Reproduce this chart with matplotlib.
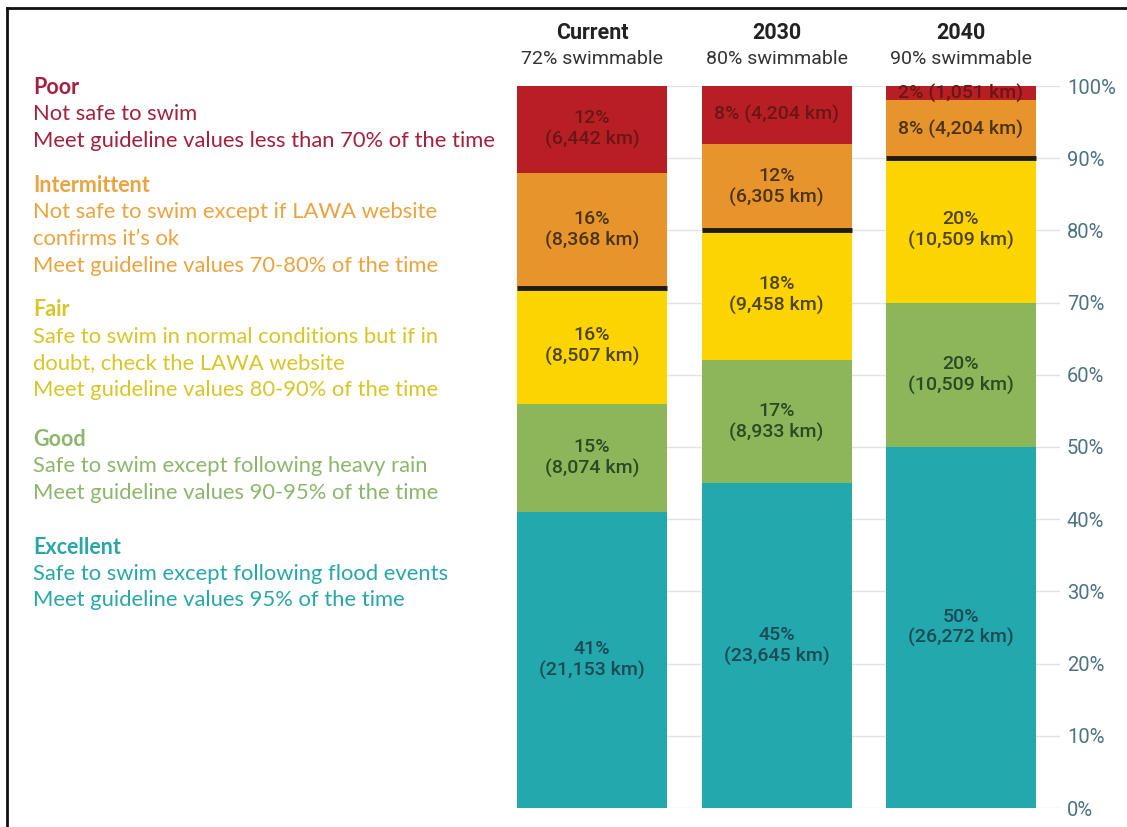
import numpy as np
import matplotlib
matplotlib.use("Agg")
import matplotlib.pyplot as plt
from matplotlib.lines import Line2D

# ── data ─────────────────────────────────────────────
SCENARIOS   = ["Current", "2030", "2040"]
SWIMMABLE   = [72, 80, 90]
CATEGORIES  = ["Excellent", "Good", "Fair", "Intermittent", "Poor"]
PCT = {
    "Excellent":    [41, 45, 50],
    "Good":         [15, 17, 20],
    "Fair":         [16, 18, 20],
    "Intermittent": [16, 12, 8],
    "Poor":         [12, 8, 2],
}
KM = {
    "Excellent":    ["21,153", "23,645", "26,272"],
    "Good":         ["8,074", "8,933", "10,509"],
    "Fair":         ["8,507", "9,458", "10,509"],
    "Intermittent": ["8,368", "6,305", "4,204"],
    "Poor":         ["6,442", "4,204", "1,051"],
}
YTICKS = [0, 10, 20, 30, 40, 50, 60, 70, 80, 90, 100]

LEGEND_ORDER = ["Poor", "Intermittent", "Fair", "Good", "Excellent"]
LEGEND_LINES = {
    "Poor":         ["Not safe to swim",
                     "Meet guideline values less than 70% of the time"],
    "Intermittent": ["Not safe to swim except if LAWA website",
                     "confirms it\u2019s ok",
                     "Meet guideline values 70-80% of the time"],
    "Fair":         ["Safe to swim in normal conditions but if in",
                     "doubt, check the LAWA website",
                     "Meet guideline values 80-90% of the time"],
    "Good":         ["Safe to swim except following heavy rain",
                     "Meet guideline values 90-95% of the time"],
    "Excellent":    ["Safe to swim except following flood events",
                     "Meet guideline values 95% of the time"],
}

# ── styles ───────────────────────────────────────────
BAR_COL = {
    "Excellent":    "#22a8ad",
    "Good":         "#8bb75a",
    "Fair":         "#fcd400",
    "Intermittent": "#e8942d",
    "Poor":         "#b81f25",
}
LABEL_COL = {
    "Excellent":    "#1d4a55",
    "Good":         "#2a4a25",
    "Fair":         "#4f4310",
    "Intermittent": "#4a3418",
    "Poor":         "#6a1616",
}
TEXT_COL = {
    "Excellent":    "#2aa6a9",
    "Good":         "#8db66d",
    "Fair":         "#d8c52a",
    "Intermittent": "#e9a441",
    "Poor":         "#a3213c",
}
CHART_FONT  = "Roboto"
LEGEND_FONT = "Lato"

W, H = 1127, 827
fig = plt.figure(figsize=(W / 100, H / 100), dpi=100)
fig.patch.set_facecolor("white")

# axes placed in pixel terms: 0% at y=808, 100% at y=86
ax_l, ax_r = 517, 1060
ax_b, ax_t = 808, 86
ax = fig.add_axes([ax_l / W, (H - ax_b) / H, (ax_r - ax_l) / W, (ax_b - ax_t) / H])

step = 184.5
bw = 150 / step
x = np.arange(len(SCENARIOS))
ax.set_xlim(-bw / 2, -bw / 2 + (ax_r - ax_l) / step)
ax.set_ylim(0, 100)

for y in YTICKS:
    ax.axhline(y, color="#dfe3e5", lw=1.0, zorder=0)

bottom = np.zeros(len(SCENARIOS))
for cat in CATEGORIES:
    vals = np.array(PCT[cat], dtype=float)
    ax.bar(x, vals, bw, bottom=bottom, color=BAR_COL[cat], zorder=2,
           linewidth=0)
    for i, v in enumerate(vals):
        if v <= 8:
            lab = f"{int(v)}% ({KM[cat][i]} km)"
        else:
            lab = f"{int(v)}%\n({KM[cat][i]} km)"
        ax.text(x[i], bottom[i] + v / 2, lab, ha="center", va="center",
                fontsize=14, fontweight="medium", color=LABEL_COL[cat],
                family=CHART_FONT, linespacing=1.2, zorder=4)
    bottom += vals

# swimmable threshold lines
for i, s in enumerate(SWIMMABLE):
    ax.hlines(s, x[i] - bw / 2, x[i] + bw / 2, color="#1e1a14", lw=3.5,
              zorder=3)

# headers
for i, (name, s) in enumerate(zip(SCENARIOS, SWIMMABLE)):
    ax.text(x[i], 107.3, name, ha="center", va="center", fontsize=15.5,
            fontweight="bold", color="#222222", family=CHART_FONT,
            clip_on=False)
    ax.text(x[i], 103.8, f"{s}% swimmable", ha="center", va="center",
            fontsize=14, color="#333333", family=CHART_FONT, clip_on=False)

ax.yaxis.tick_right()
ax.set_yticks(YTICKS)
ax.set_yticklabels([f"{t}%" for t in YTICKS], family=CHART_FONT,
                   fontsize=14.5, color="#4d7282")
ax.tick_params(axis="y", length=0, pad=5)
ax.set_xticks([])
for sp in ax.spines.values():
    sp.set_visible(False)

# legend text block on the left
lx = 33 / W
ytop = {"Poor": 88, "Intermittent": 186, "Fair": 310, "Good": 440,
        "Excellent": 547}
lh = 26.5
for cat in LEGEND_ORDER:
    y0 = ytop[cat]
    fig.text(lx, (H - y0) / H, cat, ha="left", va="center", fontsize=15.5,
             fontweight="bold", color=TEXT_COL[cat], family=LEGEND_FONT)
    for k, line in enumerate(LEGEND_LINES[cat]):
        yy = y0 + (k + 1) * lh
        fig.text(lx, (H - yy) / H, line, ha="left", va="center",
                 fontsize=15.8, color=TEXT_COL[cat], family=LEGEND_FONT)

# frame lines (top and left)
fig.add_artist(Line2D([7 / W, 1.0], [(H - 8) / H, (H - 8) / H],
                      transform=fig.transFigure, color="#111111", lw=2))
fig.add_artist(Line2D([7 / W, 7 / W], [0, (H - 8) / H],
                      transform=fig.transFigure, color="#111111", lw=2))

fig.savefig("out.png", dpi=100, facecolor="white")
